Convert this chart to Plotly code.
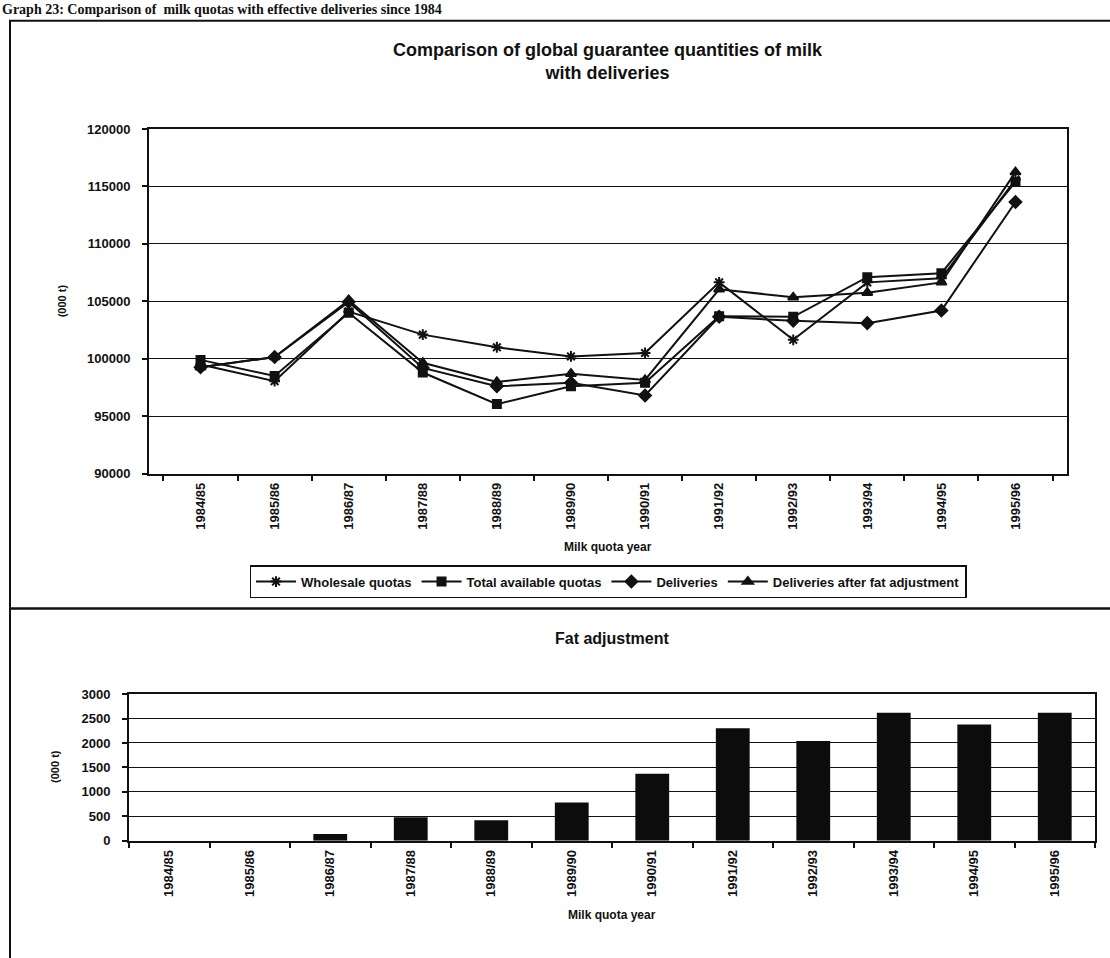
import plotly.graph_objects as go

W, H = 1110, 958

years = ["1984/85", "1985/86", "1986/87", "1987/88", "1988/89", "1989/90",
         "1990/91", "1991/92", "1992/93", "1993/94", "1994/95", "1995/96"]

wholesale_quotas = [99500, 98050, 104100, 102100, 101000, 100200,
                    100500, 106650, 101650, 106650, 107000, 115600]
total_available_quotas = [99900, 98500, 104000, 98800, 96050, 97600,
                          97900, 103700, 103650, 107100, 107450, 115400]
deliveries = [99250, 100150, 104950, 99200, 97600, 97900,
              96800, 103650, 103300, 103100, 104200, 113650]
deliveries_after_fat = [99250, 100150, 105100, 99650, 97980, 98700,
                        98150, 106050, 105350, 105750, 106650, 116250]
fat_adjustment = [0, 0, 140, 480, 420, 780, 1370, 2300, 2040, 2620, 2380, 2620]

FONT = "Liberation Sans, Arial, sans-serif"
INK = "#111111"


def px_x(x):
    return x / W


def px_y(y):
    return 1 - y / H


fig = go.Figure()

line_series = [
    ("Wholesale quotas", wholesale_quotas, "asterisk-open", 9),
    ("Total available quotas", total_available_quotas, "square", 8),
    ("Deliveries", deliveries, "diamond", 9),
    ("Deliveries after fat adjustment", deliveries_after_fat, "triangle-up", 9),
]
for name, vals, sym, size in line_series:
    fig.add_trace(go.Scatter(
        x=years, y=vals, name=name, mode="lines+markers",
        line=dict(color=INK, width=2),
        marker=dict(symbol=sym, size=size, color=INK,
                    line=dict(color=INK, width=2)),
        xaxis="x", yaxis="y",
    ))

fig.add_trace(go.Bar(
    x=years, y=fat_adjustment, name="Fat adjustment", showlegend=False,
    marker=dict(color="#0c0c0c", line=dict(width=0)),
    width=0.42, xaxis="x2", yaxis="y2",
))

tick_font = dict(family=FONT, size=13, color=INK, weight="bold")
axis_common = dict(
    showline=True, linecolor=INK, linewidth=2, mirror=True,
    ticks="outside", ticklen=5, tickcolor=INK, tickwidth=1.5,
    tickfont=tick_font, zeroline=False,
)

fig.update_layout(
    width=W, height=H,
    margin=dict(l=0, r=0, t=0, b=0),
    paper_bgcolor="white", plot_bgcolor="white",
    font=dict(family=FONT, color=INK),
    xaxis=dict(
        domain=[px_x(149), px_x(1067)], anchor="y",
        type="category", tickson="boundaries", tickangle=-90,
        showgrid=False, ticklabelstandoff=2, **axis_common,
    ),
    yaxis=dict(
        domain=[px_y(474), px_y(124)], anchor="x",
        range=[90000, 120000], dtick=5000, tickformat="d",
        showgrid=True, gridcolor=INK, gridwidth=1.2,
        ticklabelstandoff=9, **axis_common,
    ),
    xaxis2=dict(
        domain=[px_x(129), px_x(1095)], anchor="y2",
        type="category", tickson="boundaries", tickangle=-90,
        showgrid=False, ticklabelstandoff=2, **axis_common,
    ),
    yaxis2=dict(
        domain=[px_y(847), px_y(698)], anchor="x2",
        range=[0, 3000], dtick=500, tickformat="d",
        showgrid=True, gridcolor=INK, gridwidth=1.2,
        ticklabelstandoff=9, **axis_common,
    ),
    showlegend=True,
    legend=dict(
        orientation="h", x=px_x(608), xanchor="center",
        y=px_y(567), yanchor="top",
        bordercolor=INK, borderwidth=1.5, bgcolor="white",
        font=dict(family=FONT, size=13, color=INK, weight="bold"),
        itemwidth=40, tracegroupgap=0,
    ),
    bargap=0.58,
)

# outer frame around both charts and the divider between them
fig.add_shape(type="rect", xref="paper", yref="paper",
              x0=px_x(10), x1=px_x(1125), y0=px_y(975), y1=px_y(14),
              line=dict(color=INK, width=2), fillcolor="rgba(0,0,0,0)")
fig.add_shape(type="line", xref="paper", yref="paper",
              x0=px_x(10), x1=px_x(1125), y0=px_y(611), y1=px_y(611),
              line=dict(color=INK, width=2.5))

annotations = [
    dict(text="Graph 23: Comparison of  milk quotas with effective deliveries since 1984",
         x=px_x(0), y=px_y(-7), xanchor="left", yanchor="top",
         font=dict(family="Liberation Serif, Times New Roman, serif", size=14,
                   color=INK, weight="bold")),
    dict(text="Comparison of global guarantee quantities of milk<br>with deliveries",
         x=px_x(608), y=px_y(32), xanchor="center", yanchor="top",
         font=dict(family=FONT, size=18, color=INK, weight="bold")),
    dict(text="(000 t)", x=px_x(62), y=px_y(299), xanchor="center", yanchor="middle",
         textangle=-90, font=dict(family=FONT, size=11, color=INK, weight="bold")),
    dict(text="Milk quota year", x=px_x(608), y=px_y(549), xanchor="center",
         yanchor="middle", font=dict(family=FONT, size=12, color=INK, weight="bold")),
    dict(text="Fat adjustment", x=px_x(612), y=px_y(642), xanchor="center",
         yanchor="middle", font=dict(family=FONT, size=16, color=INK, weight="bold")),
    dict(text="(000 t)", x=px_x(55), y=px_y(772), xanchor="center", yanchor="middle",
         textangle=-90, font=dict(family=FONT, size=11, color=INK, weight="bold")),
    dict(text="Milk quota year", x=px_x(612), y=px_y(922), xanchor="center",
         yanchor="middle", font=dict(family=FONT, size=12, color=INK, weight="bold")),
]
for a in annotations:
    a.update(xref="paper", yref="paper", showarrow=False)
    fig.add_annotation(**a)

fig.write_html("out.html")
